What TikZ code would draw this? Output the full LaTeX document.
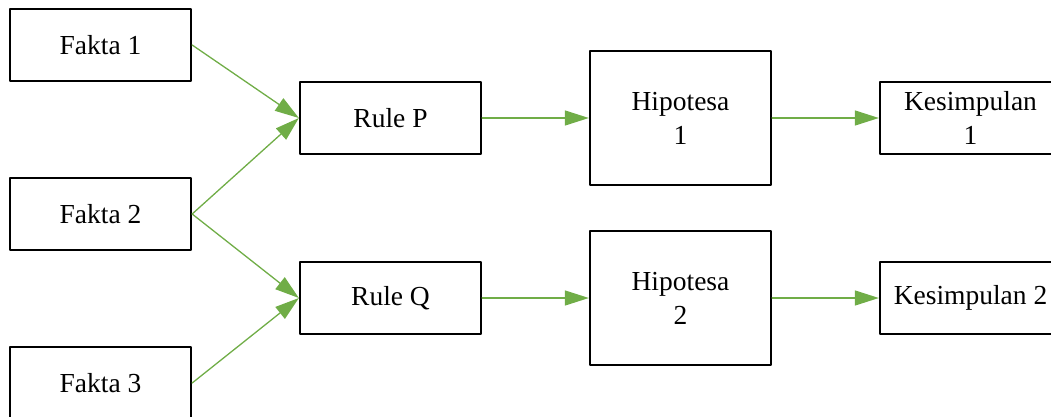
\documentclass[tikz,border=0pt]{standalone}
\usepackage{fontspec}
\setmainfont{Liberation Serif}
\usetikzlibrary{arrows.meta}
\definecolor{verde}{RGB}{112,173,71}

\begin{document}
\begin{tikzpicture}[line cap=round,line join=round,>={Triangle[length=24pt,width=15pt]},x=1pt,y=-1pt,
	caja/.style={draw,line width=2.3pt,minimum width=181pt,minimum height=72pt,inner sep=0pt,align=center,font=\fontsize{27.5}{34}\selectfont},
	flecha/.style={->,color=verde,line width=1.3pt}]
			\useasboundingbox (0,0) rectangle (1051,417);
			\clip (0,0) rectangle (1051,417);
			%%%% FAKTA
			\node[caja] (f1) at (100.5,45) {Fakta 1};
			\node[caja] (f2) at (100.5,214) {Fakta 2};
			\node[caja] (f3) at (100.5,383) {Fakta 3};
			
			%%%% RULE
			\node[caja] (rp) at (390.5,118) {Rule P};
			\node[caja] (rq) at (390.5,298) {Rule Q};
			
			%%%% HIPOTESA
			\node[caja,minimum height=134pt] (h1) at (680.5,118) {Hipotesa\\1};
			\node[caja,minimum height=134pt] (h2) at (680.5,298) {Hipotesa\\2};
			
			%%%% KESIMPULAN
			\node[caja] (k1) at (970.5,118) {Kesimpulan\\1};
			\node[caja] (k2) at (970.5,298) {Kesimpulan 2};
			
			%%%% FLECHAS
			\draw[flecha] (f1.east) -- (rp.west);
			\draw[flecha] (f2.east) -- (rp.west);
			\draw[flecha] (f2.east) -- (rq.west);
			\draw[flecha] (f3.east) -- (rq.west);
			
			\draw[flecha] (rp) -- (h1);
			\draw[flecha] (h1) -- (k1);
			\draw[flecha] (rq) -- (h2);
			\draw[flecha] (h2) -- (k2);
		\end{tikzpicture}
\end{document}
